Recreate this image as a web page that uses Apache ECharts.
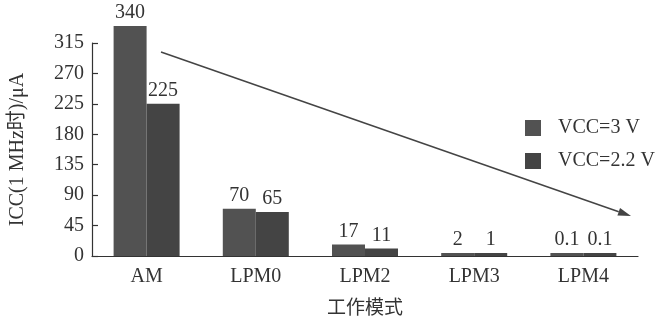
<!DOCTYPE html>
<html>
<head>
<meta charset="utf-8">
<script src="https://cdn.jsdelivr.net/npm/echarts@6/dist/echarts.min.js"></script>
<style>
  html, body { margin: 0; padding: 0; background: #fff; }
  #chart { width: 664px; height: 324px; }
</style>
</head>
<body>
<div id="chart"></div>
<script>
// Operating modes and supply current at 1 MHz (µA)
const modes = ['AM', 'LPM0', 'LPM2', 'LPM3', 'LPM4'];
const vcc3 = [340, 70, 17, 2, 0.1];
const vcc22 = [225, 65, 11, 1, 0.1];
const seriesNames = ['VCC=3 V', 'VCC=2.2 V'];

const FONT = '"Liberation Serif", "Noto Sans CJK SC", serif';
const INK = '#333';
const FS = 20;

const chart = echarts.init(document.getElementById('chart'));

function barSeries(name, data, color) {
  return {
    name: name,
    type: 'bar',
    data: data,
    barWidth: 33,
    barGap: '0%',
    barMinHeight: 3,
    clip: false,
    itemStyle: { color: color },
    label: {
      show: true,
      position: 'top',
      distance: 3,
      fontFamily: FONT,
      fontSize: FS,
      color: INK,
      formatter: p => String(p.value)
    }
  };
}

// Decreasing-trend arrow drawn across the plot
const a0 = [161, 52], a1 = [631, 216];
const ang = Math.atan2(a1[1] - a0[1], a1[0] - a0[0]);
const headLen = 13, headW = 4;
const bx = a1[0] - headLen * Math.cos(ang), by = a1[1] - headLen * Math.sin(ang);
const head = [
  a1,
  [bx + headW * Math.sin(ang), by - headW * Math.cos(ang)],
  [bx - headW * Math.sin(ang), by + headW * Math.cos(ang)]
];

chart.setOption({
  animation: false,
  backgroundColor: '#fff',
  textStyle: { fontFamily: FONT },
  grid: { left: 82, right: 26, top: 43, bottom: 63 },
  legend: {
    orient: 'vertical',
    left: 520,
    top: 113,
    itemWidth: 16,
    itemHeight: 16,
    itemGap: 13,
    icon: 'rect',
    textStyle: { fontFamily: FONT, fontSize: FS, color: INK, padding: [0, 0, 0, 12] },
    data: seriesNames
  },
  xAxis: {
    type: 'category',
    data: modes,
    name: '工作模式',
    nameLocation: 'middle',
    nameGap: 44,
    nameTextStyle: { fontFamily: FONT, fontSize: 19, color: INK },
    axisLine: { lineStyle: { color: INK, width: 1.2 } },
    axisTick: { inside: true, length: 6, lineStyle: { color: INK, width: 1.2 } },
    axisLabel: { fontFamily: FONT, fontSize: FS, color: INK, margin: 11 }
  },
  yAxis: {
    type: 'value',
    min: 0,
    max: 315,
    interval: 45,
    name: 'ICC(1 MHz时)/μA',
    nameLocation: 'middle',
    nameGap: 64,
    nameTextStyle: { fontFamily: FONT, fontSize: FS, color: INK },
    axisLine: { show: true, lineStyle: { color: INK, width: 1.2 } },
    axisTick: { show: true, inside: true, length: 6, lineStyle: { color: INK, width: 1.2 } },
    axisLabel: { fontFamily: FONT, fontSize: FS, color: INK, margin: 8 },
    splitLine: { show: false }
  },
  series: [
    barSeries(seriesNames[0], vcc3, '#525252'),
    barSeries(seriesNames[1], vcc22, '#444444')
  ],
  graphic: [
    {
      type: 'line',
      shape: { x1: a0[0], y1: a0[1], x2: bx, y2: by },
      style: { stroke: '#444', lineWidth: 1.5 },
      z: 100
    },
    {
      type: 'polygon',
      shape: { points: head },
      style: { fill: '#444' },
      z: 100
    }
  ]
});
</script>
</body>
</html>
